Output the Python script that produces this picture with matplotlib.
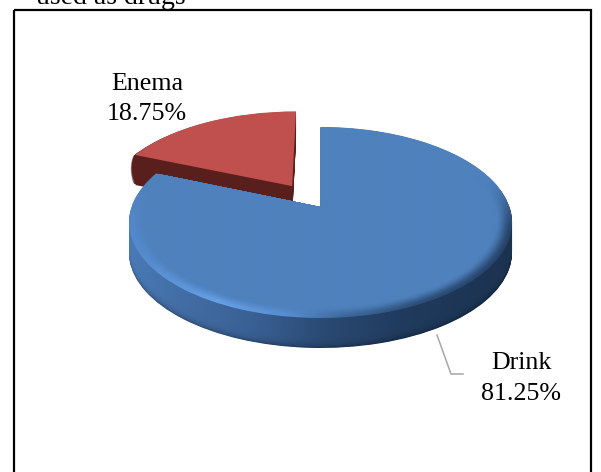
import numpy as np
import matplotlib
matplotlib.use("Agg")
import matplotlib.pyplot as plt
from matplotlib.colors import to_rgb
from matplotlib.patches import Rectangle
from matplotlib.transforms import Transform

labels = ["Drink", "Enema"]
values = [81.25, 18.75]
explode = [0, 0.28]
clipped_title = "used as drugs"

FACE_BLUE = "#4f81bd"
FACE_RED = "#bf504d"
SIDE_RED = "#581f1c"

W, H = 601, 472
CX, CY, A, B, K = 320.5, 207.0, 93.0, 189.0, 0.162
DEPTH = 30.0

plt.rcParams["font.family"] = ["Liberation Serif", "DejaVu Serif"]
fig = plt.figure(figsize=(W / 100, H / 100), dpi=100)
ax = fig.add_axes([0, 0, 1, 1])


class Perspective(Transform):
    input_dims = 2
    output_dims = 2
    is_separable = False
    has_inverse = False

    def __init__(self, dy=0.0):
        super().__init__()
        self.dy = dy

    def transform_non_affine(self, values):
        v = np.asarray(values, dtype=float)
        x, y = v[:, 0], v[:, 1]
        w = 1 + K * y
        return np.column_stack([CX + B * x / w, CY - A * y / w + self.dy])


def make_pie(dy=0.0, radius=1.0, colors=None):
    wedges, _ = ax.pie(values, startangle=90, counterclock=False, explode=explode,
                       radius=radius, colors=colors or [FACE_BLUE, FACE_RED])
    for w in wedges:
        w.set_transform(Perspective(dy) + ax.transData)
        w.set_linewidth(0)
    return wedges


def ramp(stops, xs):
    px = [s[0] for s in stops]
    rgb = np.array([to_rgb(s[1]) for s in stops])
    return np.column_stack([np.interp(xs, px, rgb[:, i]) for i in range(3)])


def smooth(t):
    t = np.clip(t, 0, 1)
    return t * t * (3 - 2 * t)


z = 1
# Red slice: dark side with a rounded outer profile, then top face
for d in np.arange(DEPTH, 0, -1.0):
    r = 1 + 0.03 * np.sin(np.pi * min(d / DEPTH, 1.0)) ** 0.5
    w = make_pie(dy=d, radius=r, colors=[FACE_BLUE, SIDE_RED])
    w[0].set_visible(False)
    w[1].set_zorder(z)
    z += 1
w = make_pie()
w[0].set_visible(False)
w[1].set_zorder(z)
z += 1

# Blue slice: shaded side
XS = np.linspace(120, 520, 160)
YS = np.linspace(115, 355, 90)
EXT = (XS[0], XS[-1], YS[-1], YS[0])
side_stops = [(129, "#4a7ab6"), (170, "#4470a8"), (250, "#3a6195"), (320, "#2b4b74"),
              (400, "#203b5e"), (512, "#1c3350")]
side = ramp(side_stops, XS)[None, :, :]
for d in np.arange(DEPTH, 0, -0.5):
    w = make_pie(dy=d)
    w[0].set_visible(False)
    w[1].set_visible(False)
    shade = 1 - 0.28 * (d / DEPTH) ** 10
    im = ax.imshow(np.clip(side * shade, 0, 1), extent=EXT, aspect="auto",
                   interpolation="bilinear", zorder=z)
    im.set_clip_path(w[0])
    z += 1

# Blue slice: bevelled rim fading into the flat top face
rim_stops = [(129, "#5288cc"), (215, "#68a2e8"), (285, "#5a90d2"), (340, "#3f6a9e"),
             (420, "#2c4e78"), (512, "#26446a")]
rim_x = ramp(rim_stops, XS)
face = np.array(to_rgb(FACE_BLUE))
yw = smooth((YS - 175) / 60)[:, None, None]
rim = yw * rim_x[None, :, :] + (1 - yw) * face
for t in np.linspace(0, 1, 16):
    radius = 1 - 0.08 * t
    w = make_pie(radius=radius)
    w[0].set_visible(False)
    w[1].set_visible(False)
    k = smooth(t)
    im = ax.imshow(np.clip(rim * (1 - k) + face * k, 0, 1), extent=EXT, aspect="auto",
                   interpolation="bilinear", zorder=z)
    im.set_clip_path(w[0])
    z += 1

ax.set_aspect("auto")
ax.set_xlim(0, W)
ax.set_ylim(H, 0)
ax.axis("off")

# Frame (its bottom edge lies outside the picture)
ax.add_patch(Rectangle((13.5, 9.5), 577.5, 480, fill=False, edgecolor="black",
                       linewidth=1.6, zorder=z + 1))

# Leader line for the Drink label
ax.plot([437, 451, 463], [335, 374, 374], color="#a6a6a6", linewidth=1.1, zorder=z + 1)

# Labels
fs = 18.7
ax.text(521, 363, labels[0], ha="center", va="center", fontsize=fs, zorder=z + 2)
ax.text(521, 394, f"{values[0]:.2f}%", ha="center", va="center", fontsize=fs, zorder=z + 2)
ax.text(147, 84, labels[1], ha="center", va="center", fontsize=fs, zorder=z + 2)
ax.text(147, 114, f"{values[1]:.2f}%", ha="center", va="center", fontsize=fs, zorder=z + 2)
ax.text(36, 4, clipped_title, ha="left", va="baseline", fontsize=20, zorder=z + 2)

fig.savefig("out.png", dpi=100, facecolor="white")
